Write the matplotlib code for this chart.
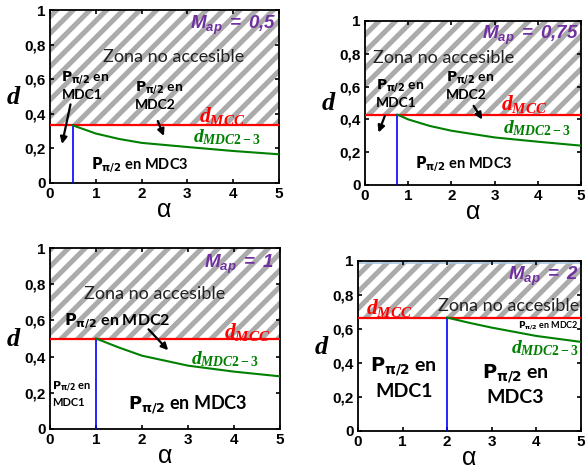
import numpy as np
import matplotlib
matplotlib.use("Agg")
import matplotlib.pyplot as plt

plt.rcParams['font.family'] = ['Lato', 'DejaVu Sans']
plt.rcParams['mathtext.fontset'] = 'custom'
plt.rcParams['mathtext.it'] = 'Liberation Serif:italic:bold'
plt.rcParams['mathtext.rm'] = 'Liberation Serif:bold'
plt.rcParams['mathtext.bf'] = 'Liberation Sans:italic:bold'
plt.rcParams['hatch.linewidth'] = 3.6

# data
m_ap = [0.5, 0.75, 1, 2]
m_labels = ['0,5', '0,75', '1', '2']
d_mcc = [0.333, 0.429, 0.5, 0.667]
alpha_pts = [
    [0.5, 1, 1.5, 2, 3, 4, 5],
    [0.75, 1, 1.5, 2, 3, 4, 5],
    [1, 1.5, 2, 3, 4, 5],
    [2, 2.5, 3, 4, 5],
]
d_pts = [
    [0.333, 0.286, 0.255, 0.232, 0.208, 0.185, 0.166],
    [0.429, 0.400, 0.360, 0.331, 0.290, 0.264, 0.240],
    [0.500, 0.450, 0.405, 0.350, 0.317, 0.291],
    [0.667, 0.636, 0.608, 0.559, 0.524],
]
xticks = [0, 1, 2, 3, 4, 5]
yticks = [0, 0.2, 0.4, 0.6, 0.8, 1]
ytick_labels = ['0', '0,2', '0,4', '0,6', '0,8', '1']

# axes rectangles in pixels (left, right, top, bottom)
W, H = 588, 472
boxes = [(50, 279, 10, 183), (365, 581, 21, 185), (50, 280, 248, 429), (358, 581, 261, 431)]

fig = plt.figure(figsize=(W / 100, H / 100), dpi=100)
axes = []
for l, r, t, b in boxes:
    axes.append(fig.add_axes([l / W, 1 - b / H, (r - l) / W, (b - t) / H]))

P = r'$\mathbf{P_{\pi/2}}$'
purple = '#7030A0'
red = '#FF0000'
green = '#008000'

for i, ax in enumerate(axes):
    ax.set_xlim(0, 5)
    ax.set_ylim(0, 1)
    ax.fill_between([0, 5], [d_mcc[i]] * 2, [1, 1], facecolor='white',
                    edgecolor='#ababab', hatch='//', linewidth=0, zorder=0)
    ax.plot([0, 5], [d_mcc[i]] * 2, color=red, lw=1.6, zorder=3)
    ax.plot([m_ap[i], m_ap[i]], [0, d_mcc[i]], color='#0000FF', lw=1.2, zorder=3)
    ax.plot(alpha_pts[i], d_pts[i], color=green, lw=1.5, zorder=3)
    ax.set_xticks(xticks)
    ax.set_yticks(yticks)
    ax.set_yticklabels(ytick_labels)
    ax.tick_params(direction='in', top=True, right=True, length=3, width=1.2,
                   labelsize=11, pad=3)
    for lab in ax.get_xticklabels() + ax.get_yticklabels():
        lab.set_fontweight('bold')
        lab.set_family('Liberation Sans')
    for s in ax.spines.values():
        s.set_linewidth(1.3)
    ax.set_xlabel('α', fontsize=18, family='Liberation Sans', labelpad=-2)
    ax.set_ylabel('$d$', fontsize=19, rotation=0, labelpad=8, va='center')
    ax.text(4.95 if i != 2 else 4.86, 0.91, r'$\mathbf{M_{ap}\ =\ ' + m_labels[i].replace(',', '{,}') + '}$',
            color=purple, fontsize=13.5, ha='right', va='center')

# light outline around the hatched zone of the last panel
axes[3].plot([0, 5, 5, 0, 0], [d_mcc[3], d_mcc[3], 0.99, 0.99, d_mcc[3]],
             color='#a9c4dc', lw=1.2, zorder=1)

arrow = dict(arrowstyle='-|>', color='black', lw=1.6, mutation_scale=10)
sm = dict(math_fontfamily='dejavusans', fontweight='bold')

# panel 1
ax = axes[0]
ax.text(2.69, 0.73, 'Zona no accesible', fontsize=13, ha='center', va='center', color='#222222')
ax.text(0.25, 0.566, P + ' en\nMDC1', fontsize=10, ha='left', va='center', linespacing=1.3, **sm)
ax.text(1.86, 0.508, P + ' en\nMDC2', fontsize=10, ha='left', va='center', linespacing=1.3, **sm)
ax.text(3.76, 0.39, '$d_{MCC}$', color=red, fontsize=15.5, ha='center', va='center')
ax.text(3.86, 0.263, '$d_{MDC2-3}$', color=green, fontsize=14, ha='center', va='center')
ax.text(1.97, 0.106, P + ' en MDC3', fontsize=10.5, ha='center', va='center', **sm)
ax.annotate('', xy=(0.25, 0.21), xytext=(0.46, 0.47), arrowprops=arrow)
ax.annotate('', xy=(2.51, 0.257), xytext=(2.33, 0.373), arrowprops=arrow)

# panel 2
ax = axes[1]
ax.text(0.19, 0.777, 'Zona no accesible', fontsize=13, ha='left', va='center', color='#222222')
ax.text(0.25, 0.558, P + ' en\nMDC1', fontsize=10, ha='left', va='center', linespacing=1.3, **sm)
ax.text(1.87, 0.608, P + ' en\nMDC2', fontsize=10, ha='left', va='center', linespacing=1.3, **sm)
ax.text(3.68, 0.491, '$d_{MCC}$', color=red, fontsize=15.5, ha='center', va='center')
ax.text(3.98, 0.345, '$d_{MDC2-3}$', color=green, fontsize=14, ha='center', va='center')
ax.text(2.29, 0.126, P + ' en MDC3', fontsize=10.5, ha='center', va='center', **sm)
ax.annotate('', xy=(0.29, 0.304), xytext=(0.48, 0.436), arrowprops=arrow)
ax.annotate('', xy=(2.75, 0.385), xytext=(2.48, 0.497), arrowprops=arrow)

# panel 3
ax = axes[2]
ax.text(2.28, 0.746, 'Zona no accesible', fontsize=13, ha='center', va='center', color='#222222')
ax.text(1.46, 0.599, P + ' en MDC2', fontsize=11.5, ha='center', va='center', **sm)
ax.text(4.28, 0.534, '$d_{MCC}$', color=red, fontsize=15.5, ha='center', va='center')
ax.text(3.80, 0.387, '$d_{MDC2-3}$', color=green, fontsize=14, ha='center', va='center')
ax.text(0.04, 0.193, P + ' en\nMDC1', fontsize=8, ha='left', va='center', linespacing=1.3, **sm)
ax.text(3.0, 0.133, P + ' en MDC3', fontsize=13, ha='center', va='center', **sm)
ax.annotate('', xy=(2.61, 0.424), xytext=(2.10, 0.562), arrowprops=arrow)

# panel 4
ax = axes[3]
ax.text(0.69, 0.725, '$d_{MCC}$', color=red, fontsize=15.5, ha='center', va='center')
ax.text(4.97, 0.735, 'Zona no accesible', fontsize=13, ha='right', va='center', color='#222222')
ax.text(4.95, 0.62, P + ' en MDC2', fontsize=6.5, ha='right', va='center', **sm)
ax.text(4.2, 0.49, '$d_{MDC2-3}$', color=green, fontsize=14, ha='center', va='center')
ax.text(1.03, 0.314, P + ' en\nMDC1', fontsize=14, ha='center', va='center', linespacing=1.3, **sm)
ax.text(3.53, 0.275, P + ' en\nMDC3', fontsize=14, ha='center', va='center', linespacing=1.3, **sm)

fig.savefig('out.png', dpi=100)
